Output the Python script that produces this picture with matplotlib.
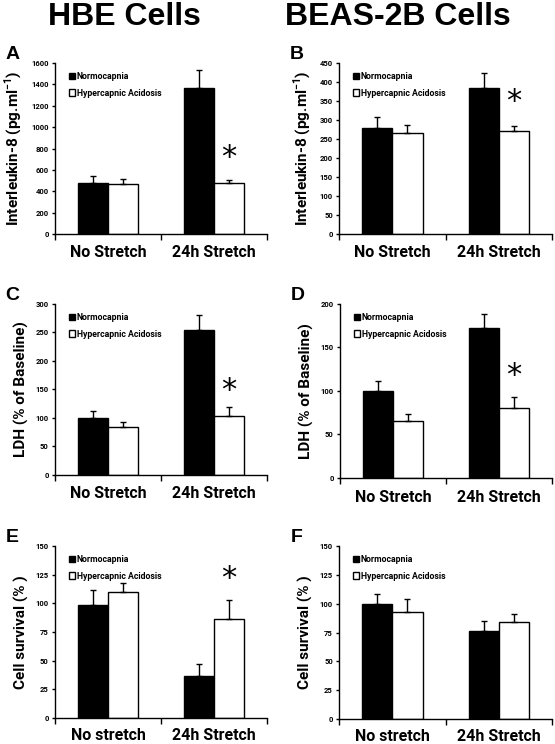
import numpy as np
import matplotlib
matplotlib.use("Agg")
import matplotlib.pyplot as plt
from matplotlib.patches import Patch

plt.rcParams['font.family'] = ['Roboto', 'DejaVu Sans']
plt.rcParams['font.weight'] = 'bold'
plt.rcParams['mathtext.fontset'] = 'custom'
plt.rcParams['mathtext.rm'] = 'Roboto:bold'
plt.rcParams['mathtext.bf'] = 'Roboto:bold'

series = ["Normocapnia", "Hypercapnic Acidosis"]
cats_top = ["No Stretch", "24h Stretch"]
cats_bot = ["No stretch", "24h Stretch"]

# means and upper errors per category (No Stretch, 24h Stretch)
il8_hbe_n = [475, 1370]
il8_hbe_n_err = [65, 160]
il8_hbe_h = [465, 475]
il8_hbe_h_err = [45, 30]

il8_beas_n = [280, 383]
il8_beas_n_err = [28, 40]
il8_beas_h = [265, 270]
il8_beas_h_err = [23, 15]

ldh_hbe_n = [100, 254]
ldh_hbe_n_err = [12, 26]
ldh_hbe_h = [85, 104]
ldh_hbe_h_err = [8, 15]

ldh_beas_n = [100, 172]
ldh_beas_n_err = [12, 16]
ldh_beas_h = [65, 81]
ldh_beas_h_err = [8, 12]

surv_hbe_n = [99, 37]
surv_hbe_n_err = [13, 10]
surv_hbe_h = [110, 86]
surv_hbe_h_err = [8, 17]

surv_beas_n = [100, 76]
surv_beas_n_err = [8, 9]
surv_beas_h = [93, 84]
surv_beas_h_err = [11, 7]

il8_label = "Interleukin-8 (pg.ml$^{-1}$)"
ldh_label = "LDH (% of Baseline)"
surv_label = "Cell survival (% )"

panels = [
    # letter, rect, n, n_err, h, h_err, ymax, yticks, ylabel, cats, star_y
    ("A", [0.099, 0.6855, 0.382, 0.2298], il8_hbe_n, il8_hbe_n_err, il8_hbe_h, il8_hbe_h_err,
     1600, np.arange(0, 1601, 200), il8_label, cats_top, 720),
    ("B", [0.611, 0.6855, 0.384, 0.2298], il8_beas_n, il8_beas_n_err, il8_beas_h, il8_beas_h_err,
     450, np.arange(0, 451, 50), il8_label, cats_top, 350),
    ("C", [0.099, 0.3616, 0.382, 0.2298], ldh_hbe_n, ldh_hbe_n_err, ldh_hbe_h, ldh_hbe_h_err,
     300, np.arange(0, 301, 50), ldh_label, cats_top, 148),
    ("D", [0.6126, 0.3575, 0.382, 0.234], ldh_beas_n, ldh_beas_n_err, ldh_beas_h, ldh_beas_h_err,
     200, np.arange(0, 201, 50), ldh_label, cats_top, 118),
    ("E", [0.099, 0.0349, 0.382, 0.2312], surv_hbe_n, surv_hbe_n_err, surv_hbe_h, surv_hbe_h_err,
     150, np.arange(0, 151, 25), surv_label, cats_bot, 122),
    ("F", [0.611, 0.0336, 0.384, 0.2325], surv_beas_n, surv_beas_n_err, surv_beas_h, surv_beas_h_err,
     150, np.arange(0, 151, 25), surv_label, cats_bot, None),
]

fig = plt.figure(figsize=(5.55, 7.44), dpi=100)
fig.text(124 / 555, 1 - 17 / 744, "HBE Cells", ha="center", va="center", fontsize=23,
         weight="bold", family="Liberation Sans")
fig.text(398 / 555, 1 - 17 / 744, "BEAS-2B Cells", ha="center", va="center", fontsize=23,
         weight="bold", family="Liberation Sans")

w = 0.283
x = np.array([0.5, 1.5])
ekw = dict(ecolor="black", elinewidth=1, capsize=2.5, capthick=1)
for letter, rect, n, ne, h, he, ymax, yt, ylab, cats, star in panels:
    ax = fig.add_axes(rect)
    ax.bar(x - w / 2, n, w, color="black", edgecolor="black", linewidth=1,
           yerr=[np.zeros(2), ne], error_kw=ekw)
    ax.bar(x + w / 2, h, w, color="white", edgecolor="black", linewidth=1,
           yerr=[np.zeros(2), he], error_kw=ekw)
    ax.set_xlim(0, 2)
    ax.set_ylim(0, ymax)
    ax.set_yticks(yt)
    ax.set_yticklabels([str(v) for v in yt], fontsize=5.5, weight="bold")
    ax.set_xticks([0, 1, 2])
    ax.set_xticklabels([])
    ax.tick_params(axis="x", direction="out", length=4, width=1)
    ax.tick_params(axis="y", direction="out", length=2.5, width=1, pad=2)
    off = 17 if letter in "EF" else 19
    for i, c in enumerate(cats):
        ax.text(x[i], -off / 172, c, transform=ax.get_xaxis_transform(), ha="center", va="center",
                fontsize=11.5, weight="bold")
    ax.spines["top"].set_visible(False)
    ax.spines["right"].set_visible(False)
    ax.spines["left"].set_linewidth(1)
    ax.spines["bottom"].set_linewidth(1)
    ax.set_ylabel(ylab, fontsize=11, weight="bold", labelpad=5)
    if star is not None:
        ax.text(x[1] + w / 2, star, "*", ha="center", va="center", fontsize=22,
                family="DejaVu Sans", weight="normal")
    handles = [Patch(facecolor="black", edgecolor="black"),
               Patch(facecolor="white", edgecolor="black")]
    ax.legend(handles, series, loc="upper left", bbox_to_anchor=(0.04, 0.98), frameon=False,
              prop=dict(size=6.3, weight="bold"), handlelength=0.7, handleheight=0.7,
              handletextpad=0.2, labelspacing=0.9, borderaxespad=0.2)
    ax.text(-0.2, 1.05, letter, transform=ax.transAxes, fontsize=14, weight="bold",
            family="Liberation Sans", ha="center", va="center")

fig.savefig("out.png", dpi=100)
